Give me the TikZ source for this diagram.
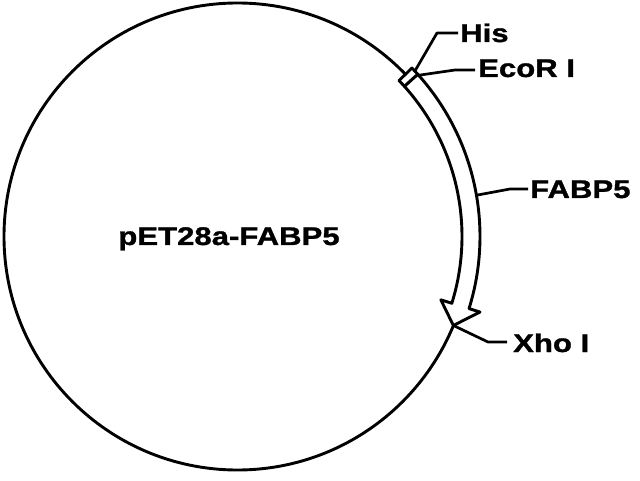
\documentclass[tikz,border=0pt]{standalone}
\usepackage{fontspec}
\newfontfamily\labfont[FakeStretch=1.22,FakeBold=1.2]{Liberation Sans Bold}
\usetikzlibrary{calc}
\begin{document}
\begin{tikzpicture}[x=1pt,y=1pt,
  line/.style={line width=2.9pt,line join=round},
  lbl/.style={font=\labfont\fontsize{25.5}{30}\selectfont,inner sep=0pt,anchor=base west},
  leader/.style={line width=2.7pt,line join=round}]
\useasboundingbox (0,0) rectangle (640,480);
\coordinate (C) at (237.5,243.5);
% plasmid circle
\draw[line] (C) circle[radius=233.5];
% FABP5 arrow band
\draw[line,fill=white] ($(C)+(42:242.5)$) arc[start angle=42,end angle=-17.3,radius=242.5]
  -- ($(C)+(-17.3:254)$) -- ($(C)+(-22.4:233.5)$) coordinate (tip)
  -- ($(C)+(-17.3:213)$) -- ($(C)+(-17.3:224.5)$)
  arc[start angle=-17.3,end angle=42,radius=224.5] -- cycle;
% His box
\draw[line,fill=white] ($(C)+(42:242.5)$) arc[start angle=42,end angle=44,radius=242.5]
  -- ($(C)+(44:224.5)$) arc[start angle=44,end angle=42,radius=224.5] -- cycle;
% anchors for leaders
\coordinate (hisS) at ($(C)+(43:242.5)$);
\coordinate (ecoS) at ($(C)+(41.6:243)$);
\coordinate (fabS) at ($(C)+(9.8:242.5)$);
\coordinate (hisK) at (437,447);
\coordinate (ecoK) at (455,410);
\coordinate (fabK) at (510,291);
\coordinate (xhoK) at (488,138);
% labels
\node[lbl] (his) at (460,438) {His};
\node[lbl] (eco) at (478,403) {EcoR I};
\node[lbl] (fab) at (530,282) {FABP5};
\node[lbl] (xho) at (513,128) {Xho I};
\node[lbl,anchor=base] (name) at (229,235) {pET28a-FABP5};
% leaders
\draw[leader] (hisS) -- (hisK) -- ([xshift=-2pt]his.west |- hisK);
\draw[leader] (ecoS) -- (ecoK) -- ([xshift=-3pt]eco.west |- ecoK);
\draw[leader] (fabS) -- (fabK) -- ([xshift=-2pt]fab.west |- fabK);
\draw[leader] (tip) -- (xhoK) -- ([xshift=-6pt]xho.west |- xhoK);
\end{tikzpicture}
\end{document}
